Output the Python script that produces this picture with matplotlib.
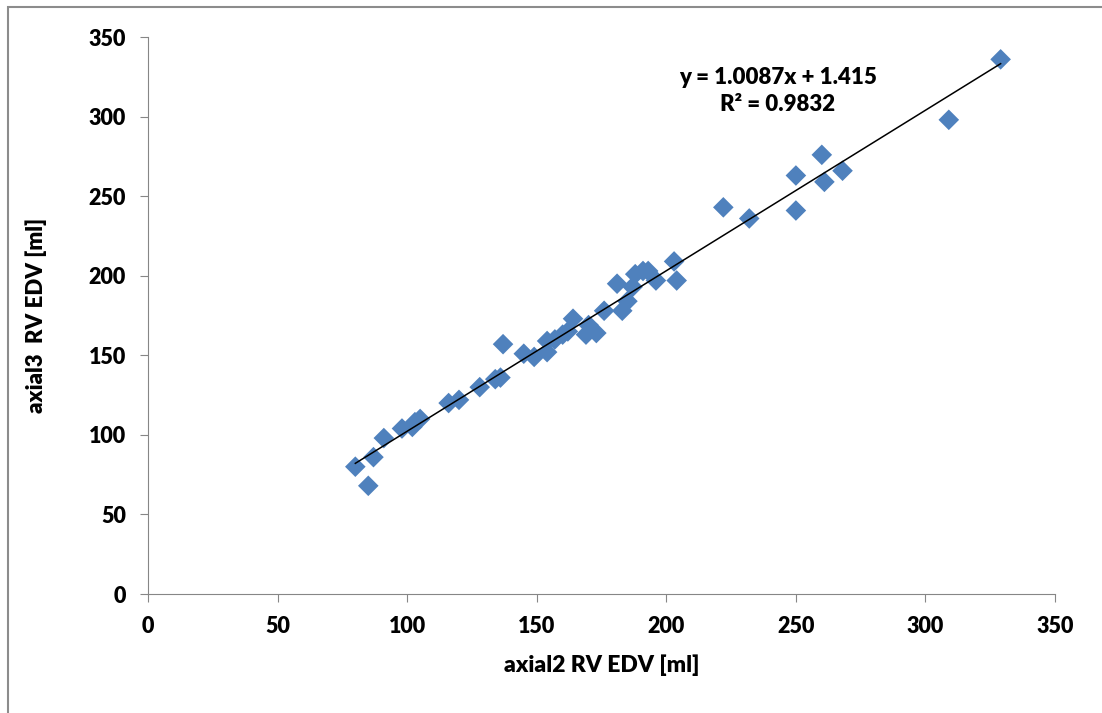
import matplotlib.pyplot as plt
import matplotlib.patches as patches
import numpy as np

# axial2 vs axial3 RV EDV [ml]
axial2 = [80, 85, 87, 91, 98, 102, 103, 105, 116, 120, 128, 134, 136, 137,
          145, 149, 154, 154, 157, 160, 162, 164, 169, 170, 173, 176, 181,
          183, 185, 187, 188, 191, 193, 196, 203, 204, 222, 232, 250, 250,
          260, 261, 268, 309, 329]
axial3 = [80, 68, 86, 98, 104, 105, 108, 110, 120, 122, 130, 135, 136, 157,
          151, 149, 152, 159, 160, 163, 165, 173, 163, 169, 164, 178, 195,
          178, 184, 193, 201, 203, 203, 197, 209, 197, 243, 236, 263, 241,
          276, 259, 266, 298, 336]

slope = 1.0087
intercept = 1.415
r2 = 0.9832

plt.rcParams['font.family'] = ['Lato', 'DejaVu Sans']
W = 'heavy'

fig = plt.figure(figsize=(11.02, 7.13), dpi=100)
ax = fig.add_axes([0.1343, 0.1669, 0.8231, 0.7811])

ax.scatter(axial2, axial3, marker='D', s=110, color='#4F81BD',
           edgecolors='none', zorder=3)

xs = np.array([min(axial2), max(axial2)])
ax.plot(xs, slope * xs + intercept, color='black', linewidth=1.1, zorder=4)

ax.text(243, 316, 'y = 1.0087x + 1.415\nR² = %.4f' % r2, ha='center',
        va='center', fontsize=16, fontweight=W, linespacing=1.35)

ax.set_xlim(0, 350)
ax.set_ylim(0, 350)
ax.set_xticks(range(0, 351, 50))
ax.set_yticks(range(0, 351, 50))

ax.spines['top'].set_color('none')
ax.spines['right'].set_color('none')
ax.spines['left'].set_color('#868686')
ax.spines['bottom'].set_color('#868686')
ax.tick_params(direction='out', length=6, color='#868686', labelsize=15.5,
               pad=10)
for label in ax.get_xticklabels() + ax.get_yticklabels():
    label.set_fontweight(W)

ax.set_xlabel('axial2 RV EDV [ml]', fontsize=16.5, fontweight=W,
              labelpad=12)
ax.set_ylabel('axial3  RV EDV [ml]', fontsize=16, fontweight=W,
              labelpad=30)

# chart area border (only left and top edges visible)
fig.patches.append(patches.Rectangle((8 / 1102, -0.05), 1.1, 1.05 - 7 / 713,
                                     transform=fig.transFigure, fill=False,
                                     edgecolor='#8c8c8c', linewidth=1.5))

fig.savefig('out.png', dpi=100)
